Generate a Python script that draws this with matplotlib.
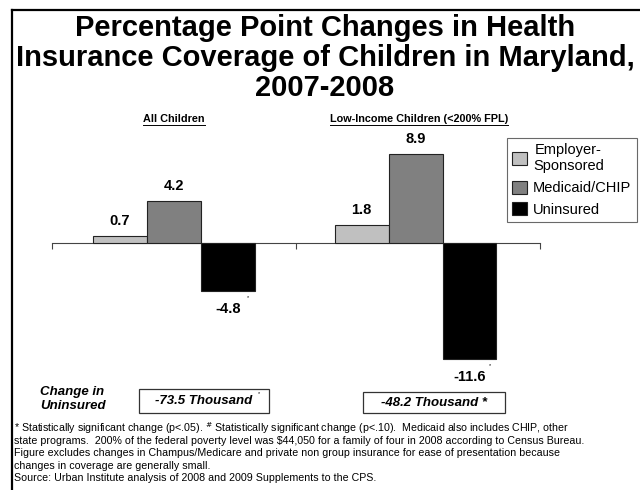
import matplotlib
matplotlib.use("Agg")
import matplotlib.pyplot as plt
from matplotlib.patches import Patch, Rectangle
from matplotlib.lines import Line2D
import numpy as np

plt.rcParams['font.family'] = ['Liberation Sans', 'DejaVu Sans']

groups = ["All Children", "Low-Income Children (<200% FPL)"]
series = ["Employer-\nSponsored", "Medicaid/CHIP", "Uninsured"]
colors = ["#c0c0c0", "#808080", "#000000"]
employer = [0.7, 1.8]
medicaid = [4.2, 8.9]
uninsured = [-4.8, -11.6]
uninsured_sig = [True, True]
uninsured_change = ["-73.5 Thousand", "-48.2 Thousand *"]

title_lines = ["Percentage Point Changes in Health",
               "Insurance Coverage of Children in Maryland,",
               "2007-2008"]
footnote_lines = [
    "* Statistically significant change (p<.05). $^{\\#}$ Statistically significant change (p<.10).  "
    "Medicaid also includes CHIP, other",
    "state programs.  200% of the federal poverty level was $44,050 for a family of four in 2008 "
    "according to Census Bureau.",
    "Figure excludes changes in Champus/Medicare and private non group insurance for ease of "
    "presentation because",
    "changes in coverage are generally small.",
    "Source: Urban Institute analysis of 2008 and 2009 Supplements to the CPS.",
]

W, H = 640, 490
fig = plt.figure(figsize=(W / 100, H / 100), dpi=100)


def fy(py):
    return 1 - py / H


# frame lines on left and top
fig.add_artist(Line2D([12 / W, 12 / W], [0, fy(10)], color="black", lw=1.6,
                      transform=fig.transFigure))
fig.add_artist(Line2D([12 / W, 1], [fy(10), fy(10)], color="black", lw=1.6,
                      transform=fig.transFigure))

for ty, line in zip([28, 58, 88], title_lines):
    fig.text(325 / W, fy(ty), line, ha="center", va="center", fontsize=21,
             fontweight="bold")

ax = fig.add_axes([52 / W, 117 / H, 488 / W, 230 / H])
ax.set_xlim(0, 2)
ax.set_ylim(-13, 10)

x = np.array([0.5, 1.49])
bw = 0.221
data = [employer, medicaid, uninsured]
for i, (vals, c) in enumerate(zip(data, colors)):
    xs = x + (i - 1) * bw
    ax.bar(xs, vals, width=bw, color=c, edgecolor="#222222", linewidth=0.8, zorder=3)
    for j, (xx, v) in enumerate(zip(xs, vals)):
        if v >= 0:
            ax.annotate(f"{v:.1f}", (xx, v), xytext=(0, 6), textcoords="offset points",
                        ha="center", va="bottom", fontsize=10.5, fontweight="bold")
        else:
            ax.annotate(f"{v:.1f}", (xx, v), xytext=(0, -8), textcoords="offset points",
                        ha="center", va="top", fontsize=10.5, fontweight="bold")
            if uninsured_sig[j]:
                ax.annotate("*", (xx, v), xytext=(14, -3), textcoords="offset points",
                            ha="left", va="top", fontsize=4)

for s in ["top", "right", "left"]:
    ax.spines[s].set_visible(False)
ax.spines["bottom"].set_position(("data", 0))
ax.spines["bottom"].set_color("#444444")
ax.set_xticks([0, 1, 2])
ax.set_xticklabels([])
ax.tick_params(axis="x", direction="out", length=4, color="#444444")
ax.set_yticks([])
ax.patch.set_alpha(0)

# group headers, underlined
renderer = fig.canvas.get_renderer()
for gx, g in zip([174, 419], groups):
    t = fig.text(gx / W, fy(119), g, ha="center", va="center", fontsize=7.8,
                 fontweight="bold")
    bb = t.get_window_extent(renderer)
    x0, x1 = bb.x0 / W, bb.x1 / W
    yl = (bb.y0 - 1) / H
    fig.add_artist(Line2D([x0, x1], [yl, yl], color="black", lw=0.7,
                          transform=fig.transFigure))

handles = [Patch(facecolor=c, edgecolor="#222222", linewidth=0.8) for c in colors]
leg = fig.legend(handles, series, loc="upper left",
                 bbox_to_anchor=(507 / W, fy(138)), fontsize=10.5,
                 frameon=True, fancybox=False, edgecolor="#444444",
                 handlelength=1.0, handleheight=1.0, handletextpad=0.45,
                 borderpad=0.35, labelspacing=0.5, borderaxespad=0)
leg.get_frame().set_linewidth(0.8)
for t in leg.get_texts():
    t.set_multialignment("center")

# change in uninsured row
fig.text(40 / W, fy(399), "Change in\nUninsured", ha="left", va="center",
         fontsize=9.5, fontweight="bold", style="italic", linespacing=1.15)
boxes = [(139, 389, 130, 24), (363, 392, 142, 21)]
for (bx, by, bwid, bh), lab in zip(boxes, uninsured_change):
    fig.add_artist(Rectangle((bx / W, fy(by + bh)), bwid / W, bh / H,
                             transform=fig.transFigure, facecolor="white",
                             edgecolor="#333333", lw=0.9))
    fig.text((bx + bwid / 2) / W, fy(by + bh / 2), lab, ha="center", va="center",
             fontsize=9.5, fontweight="bold", style="italic")
fig.text(258 / W, fy(394), "*", ha="left", va="center", fontsize=4)

for ly, line in zip([428, 440.5, 453, 465.5, 478], footnote_lines):
    fig.text(14 / W, fy(ly), line, ha="left", va="center", fontsize=7.7)

fig.savefig("out.png", dpi=100)
